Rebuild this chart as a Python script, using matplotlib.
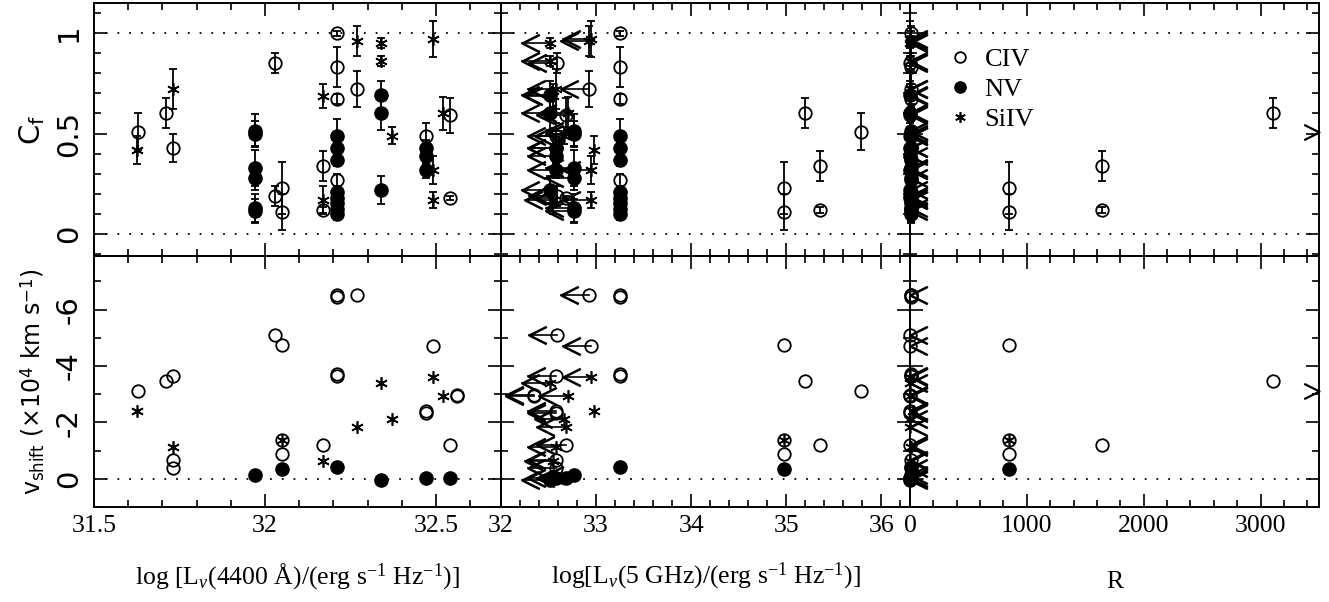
import matplotlib
matplotlib.use("Agg")
import matplotlib.pyplot as plt
from matplotlib.path import Path
from matplotlib.lines import Line2D
from matplotlib.ticker import MultipleLocator, FormatStrFormatter

plt.rcParams["font.family"] = ["DejaVu Sans"]
plt.rcParams["axes.unicode_minus"] = False
plt.rcParams["mathtext.fontset"] = "custom"
plt.rcParams["mathtext.rm"] = "Liberation Serif"
plt.rcParams["mathtext.it"] = "Liberation Serif:italic"
plt.rcParams["mathtext.sf"] = "DejaVu Sans"

# one entry per quasar
logL4400 = [32.21, 31.63, 31.71, 32.05, 32.17, 31.625, 32.27, 32.03, 32.49, 31.73,
            32.34, 32.56, 32.52, 32.47, 32.27, 32.37, 32.54, 31.97, 32.17]
logL5GHz = [33.25, 35.78, 35.20, 34.98, 35.35, 32.98, 32.93, 32.59, 32.95, 32.58,
            32.52, 32.35, 32.70, 32.58, 32.68, 32.66, 32.68, 32.77, 32.55]
radio_upper = [False, False, False, False, False, False, True, True, True, True,
               True, True, True, True, True, True, True, True, True]
R_loud = [11, 14000, 3110, 850, 1640, 22, 4.6, 3.7, 2.9, 7.1,
          1.5, 0.6, 1.5, 1.3, 2.6, 2.0, 1.4, 6.3, 2.4]

# covering factors: quasar index, ion, value, error
cf_qso = [1, 5, 2, 9, 9,
          17, 17, 17, 17, 17, 17,
          7, 7, 3, 3, 4, 4, 18, 18,
          0, 0, 0, 0, 0, 0, 0, 0, 0, 0, 0, 0,
          6, 6, 10, 10, 10, 10, 10, 15,
          13, 13, 13, 13, 8, 8, 8, 12, 16, 16]
cf_ion = ["CIV", "SiIV", "CIV", "SiIV", "CIV",
          "NV", "NV", "NV", "NV", "NV", "NV",
          "CIV", "CIV", "CIV", "CIV", "CIV", "CIV", "SiIV", "SiIV",
          "CIV", "CIV", "CIV", "CIV", "NV", "NV", "NV", "NV", "NV", "NV", "NV", "NV",
          "SiIV", "CIV", "SiIV", "SiIV", "NV", "NV", "NV", "SiIV",
          "CIV", "NV", "NV", "NV", "SiIV", "SiIV", "SiIV", "SiIV", "CIV", "CIV"]
cf_value = [0.51, 0.42, 0.60, 0.72, 0.43,
            0.515, 0.50, 0.33, 0.28, 0.13, 0.115,
            0.85, 0.19, 0.23, 0.11, 0.34, 0.12, 0.685, 0.17,
            1.00, 0.83, 0.67, 0.27, 0.49, 0.43, 0.37, 0.21, 0.18, 0.155, 0.125, 0.10,
            0.96, 0.72, 0.95, 0.86, 0.69, 0.60, 0.22, 0.49,
            0.49, 0.43, 0.39, 0.32, 0.97, 0.32, 0.17, 0.60, 0.59, 0.18]
cf_error = [0.09, 0.07, 0.075, 0.10, 0.07,
            0.08, 0.06, 0.09, 0.06, 0.07, 0.06,
            0.05, 0.05, 0.13, 0.09, 0.075, 0.015, 0.06, 0.07,
            0.012, 0.10, 0.025, 0.03, 0.08, 0.03, 0.03, 0.03, 0.03, 0.03, 0.03, 0.03,
            0.075, 0.09, 0.025, 0.025, 0.07, 0.08, 0.07, 0.04,
            0.06, 0.04, 0.04, 0.04, 0.09, 0.07, 0.04, 0.08, 0.085, 0.01]

# velocity shifts (1e4 km/s): quasar index, ion, value
vs_qso = [1, 5, 2, 9, 9, 9, 9, 17, 7,
          3, 3, 3, 3, 3, 4, 18,
          0, 0, 0, 0, 0, 6, 14, 10, 10, 15,
          13, 13, 13, 8, 8, 12, 16, 16, 11, 11]
vs_ion = ["CIV", "SiIV", "CIV", "CIV", "CIV", "CIV", "SiIV", "NV", "CIV",
          "CIV", "CIV", "CIV", "SiIV", "NV", "CIV", "SiIV",
          "CIV", "CIV", "CIV", "CIV", "NV", "CIV", "SiIV", "SiIV", "NV", "SiIV",
          "CIV", "CIV", "NV", "CIV", "SiIV", "SiIV", "CIV", "NV", "CIV", "CIV"]
vs_value = [-3.10, -2.42, -3.46, -3.64, -0.68, -0.40, -1.13, -0.13, -5.09,
            -4.74, -1.36, -0.89, -1.36, -0.36, -1.21, -0.64,
            -6.50, -6.45, -3.70, -3.66, -0.42, -6.50, -1.84, -3.39, 0.05, -2.13,
            -2.39, -2.35, -0.04, -4.72, -3.62, -2.95, -1.19, -0.03, -2.98, -2.94]

ions = ["CIV", "NV", "SiIV"]
style = {
    "CIV": dict(marker="o", ms=9, mfc="none", mec="k", mew=1.3),
    "NV": dict(marker="o", ms=9.5, mfc="k", mec="k", mew=1.0),
    "SiIV": dict(marker=(6, 2, 0), ms=9, mfc="k", mec="k", mew=1.2),
}
left_head = Path([(2, 1), (0, 0), (2, -1)], [Path.MOVETO, Path.LINETO, Path.LINETO])
right_head = Path([(-2, 1), (0, 0), (-2, -1)], [Path.MOVETO, Path.LINETO, Path.LINETO])

W, H = 1329, 602
fig = plt.figure(figsize=(W / 100, H / 100), dpi=100)
lefts, rights = [94, 501, 910], [501, 910, 1319]
tops, bottoms = [3, 256], [256, 507]
axes = [[fig.add_axes([l / W, 1 - b / H, (r - l) / W, (b - t) / H])
         for l, r in zip(lefts, rights)] for t, b in zip(tops, bottoms)]

xlims = [(31.5, 32.69), (32.0, 36.3), (0, 3500)]
xmaj, xmin = [0.5, 1, 1000], [0.1, 0.2, 200]
ylims = [(-0.11, 1.15), (1.0, -7.9)]
ymaj, ymin = [0.5, 2], [0.1, 1]
xsrc = [logL4400, logL5GHz, R_loud]
meas = [(cf_qso, cf_ion, cf_value, cf_error), (vs_qso, vs_ion, vs_value, None)]

for row in range(2):
    qso, ion_l, val, err = meas[row]
    for col in range(3):
        ax = axes[row][col]
        xmax = xlims[col][1]
        for yl in ([0, 1] if row == 0 else [0]):
            ax.axhline(yl, color="k", lw=1.3, ls=(0, (1, 5.5)), zorder=1)
        for ion in ions:
            idx = [i for i in range(len(qso)) if ion_l[i] == ion]
            xs, ys, es = [], [], []
            for i in idx:
                q = qso[i]
                x = xsrc[col][q]
                if x > xmax:
                    ax.plot(xmax, val[i], marker=right_head, ms=22, mfc="none",
                            mec="k", mew=1.6, clip_on=False, zorder=4)
                    continue
                xs.append(x)
                ys.append(val[i])
                if err is not None:
                    es.append(err[i])
                if col > 0 and radio_upper[q]:
                    tip = x - 0.3 if col == 1 else x * 0.5
                    ax.plot([x, tip], [val[i], val[i]], color="k", lw=1.2,
                            clip_on=False, zorder=3)
                    ax.plot(tip, val[i], marker=left_head, ms=25, mfc="none",
                            mec="k", mew=1.8, clip_on=False, zorder=3)
            if err is not None:
                eb = ax.errorbar(xs, ys, yerr=es, fmt="none", ecolor="k",
                                 elinewidth=1.3, capsize=3, capthick=1.3, zorder=3)
                for a in eb.get_children():
                    a.set_clip_on(False)
            ax.plot(xs, ys, ls="none", clip_on=False, zorder=5, **style[ion])

        ax.set_xlim(*xlims[col])
        ax.set_ylim(*ylims[row])
        ax.xaxis.set_major_locator(MultipleLocator(xmaj[col]))
        ax.xaxis.set_minor_locator(MultipleLocator(xmin[col]))
        ax.yaxis.set_major_locator(MultipleLocator(ymaj[row]))
        ax.yaxis.set_minor_locator(MultipleLocator(ymin[row]))
        ax.xaxis.set_major_formatter(FormatStrFormatter("%g"))
        ax.yaxis.set_major_formatter(FormatStrFormatter("%g"))
        ax.tick_params(which="both", direction="in", top=True, right=True,
                       width=1.2, colors="k")
        ax.tick_params(which="major", length=9.5)
        ax.tick_params(which="minor", length=4.8)
        ax.tick_params(axis="x", labelsize=18.5, pad=6, labelbottom=(row == 1))
        ax.tick_params(axis="y", labelsize=21, pad=8, labelrotation=90,
                       labelleft=(col == 0))
        for s in ax.spines.values():
            s.set_linewidth(1.4)
        for lab in ax.get_xticklabels():
            lab.set_fontfamily("Liberation Serif")
        for lab in ax.get_yticklabels():
            lab.set_va("center")

axes[0][0].set_ylabel(r"C$_\mathsf{f}$", fontsize=21)
axes[1][0].set_ylabel(r"v$_\mathsf{shift}$ (×10$^\mathsf{4}$ km s$^\mathsf{-1}$)", fontsize=17)
for ax in (axes[0][0], axes[1][0]):
    ax.yaxis.set_label_coords(-0.115, 0.5)

xlabels = [r"log [L$_\nu$(4400 Å)/(erg s$^{-1}$ Hz$^{-1}$)]",
           r"log[L$_\nu$(5 GHz)/(erg s$^{-1}$ Hz$^{-1}$)]", "R"]
for col in range(3):
    axes[1][col].set_xlabel(xlabels[col], fontsize=18.5, fontfamily="Liberation Serif",
                            labelpad=17 if col < 2 else 24)

handles = [Line2D([], [], ls="none", **dict(style[ion], ms=style[ion]["ms"] * 0.85))
           for ion in ions]
axes[0][2].legend(handles, ions, loc="upper left", bbox_to_anchor=(0.06, 0.875),
                  frameon=False, prop={"family": "Liberation Serif", "size": 19},
                  handlelength=0.9, handletextpad=0.5, labelspacing=0.25,
                  borderpad=0)

fig.savefig("out.png", dpi=100)
